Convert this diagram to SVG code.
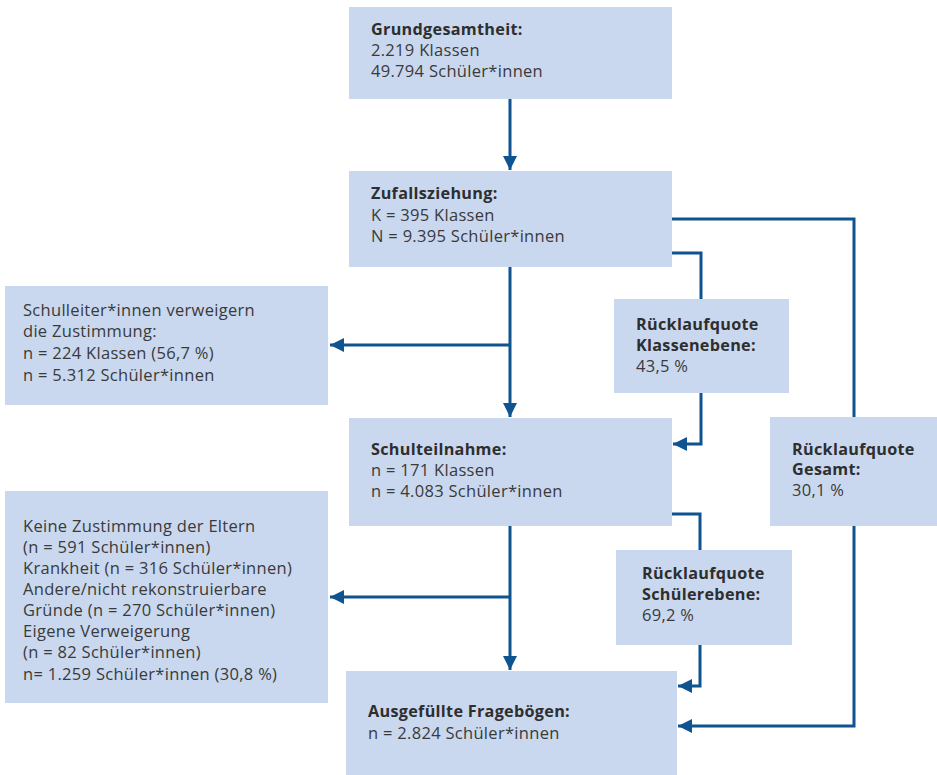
<svg xmlns="http://www.w3.org/2000/svg" width="937" height="775" viewBox="0 0 937 775">
<defs>
<style>
.box{fill:#c9d8ee}
text{font-family:"Open Sans","Noto Sans",sans-serif;font-size:16.5px;letter-spacing:0.3px;fill:#3a3a3a}
.b{font-weight:bold;font-size:16.2px;fill:#2e2e2e}
.ln{fill:none;stroke:#0f5390;stroke-width:3}
</style>
<marker id="ah" markerUnits="userSpaceOnUse" markerWidth="14" markerHeight="14" viewBox="0 0 12 12" refX="12" refY="6" orient="auto">
<path d="M0,0 L12,6 L0,12 Z" fill="#0f5390"/>
</marker>
</defs>
<rect width="937" height="775" fill="#ffffff"/>
<g id="connectors">
<path class="ln" d="M510,99 V170" marker-end="url(#ah)"/>
<path class="ln" d="M510,267 V417" marker-end="url(#ah)"/>
<path class="ln" d="M510,345 H330" marker-end="url(#ah)"/>
<path class="ln" d="M510,526 V670" marker-end="url(#ah)"/>
<path class="ln" d="M510,597 H330" marker-end="url(#ah)"/>
<path class="ln" d="M672,219 H854 V417"/>
<path class="ln" d="M854,526 V726 H678" marker-end="url(#ah)"/>
<path class="ln" d="M672,253 H701 V299"/>
<path class="ln" d="M701,393 V444 H673" marker-end="url(#ah)"/>
<path class="ln" d="M672,514 H700 V550"/>
<path class="ln" d="M700,645 V686 H678" marker-end="url(#ah)"/>
</g>
<g id="grundgesamtheit">
<rect class="box" x="349" y="7" width="323" height="92"/>
<text x="371" y="35"><tspan class="b">Grundgesamtheit:</tspan><tspan x="371" y="56">2.219 Klassen</tspan><tspan x="371" y="77">49.794 Schüler*innen</tspan></text>
</g>
<g id="zufallsziehung">
<rect class="box" x="349" y="171" width="323" height="96"/>
<text x="371" y="199"><tspan class="b">Zufallsziehung:</tspan><tspan x="371" y="221">K = 395 Klassen</tspan><tspan x="371" y="242">N = 9.395 Schüler*innen</tspan></text>
</g>
<g id="verweigerung-schulleitung">
<rect class="box" x="5" y="286" width="323" height="119"/>
<text x="23" y="316">Schulleiter*innen verweigern<tspan x="23" y="337">die Zustimmung:</tspan><tspan x="23" y="359">n = 224 Klassen (56,7 %)</tspan><tspan x="23" y="381">n = 5.312 Schüler*innen</tspan></text>
</g>
<g id="ruecklauf-klassen">
<rect class="box" x="614" y="299" width="175" height="94"/>
<text x="636" y="330"><tspan class="b">Rücklaufquote</tspan><tspan class="b" x="636" y="351">Klassenebene:</tspan><tspan x="636" y="372">43,5 %</tspan></text>
</g>
<g id="schulteilnahme">
<rect class="box" x="349" y="418" width="323" height="108"/>
<text x="371" y="455"><tspan class="b">Schulteilnahme:</tspan><tspan x="371" y="476">n = 171 Klassen</tspan><tspan x="371" y="497">n = 4.083 Schüler*innen</tspan></text>
</g>
<g id="ruecklauf-gesamt">
<rect class="box" x="770" y="417" width="167" height="109"/>
<text x="792" y="455"><tspan class="b">Rücklaufquote</tspan><tspan class="b" x="792" y="475">Gesamt:</tspan><tspan x="792" y="496">30,1 %</tspan></text>
</g>
<g id="ausfaelle-schueler">
<rect class="box" x="5" y="491" width="323" height="212"/>
<text x="23" y="532">Keine Zustimmung der Eltern<tspan x="23" y="553">(n = 591 Schüler*innen)</tspan><tspan x="23" y="574">Krankheit (n = 316 Schüler*innen)</tspan><tspan x="23" y="595">Andere/nicht rekonstruierbare</tspan><tspan x="23" y="616">Gründe (n = 270 Schüler*innen)</tspan><tspan x="23" y="637">Eigene Verweigerung</tspan><tspan x="23" y="658">(n = 82 Schüler*innen)</tspan><tspan x="23" y="680">n= 1.259 Schüler*innen (30,8 %)</tspan></text>
</g>
<g id="ruecklauf-schueler">
<rect class="box" x="616" y="550" width="176" height="95"/>
<text x="642" y="579"><tspan class="b">Rücklaufquote</tspan><tspan class="b" x="642" y="600">Schülerebene:</tspan><tspan x="642" y="621">69,2 %</tspan></text>
</g>
<g id="ausgefuellt">
<rect class="box" x="346" y="671" width="331" height="104"/>
<text x="368" y="717"><tspan class="b">Ausgefüllte Fragebögen:</tspan><tspan x="368" y="739">n = 2.824 Schüler*innen</tspan></text>
</g>
</svg>
